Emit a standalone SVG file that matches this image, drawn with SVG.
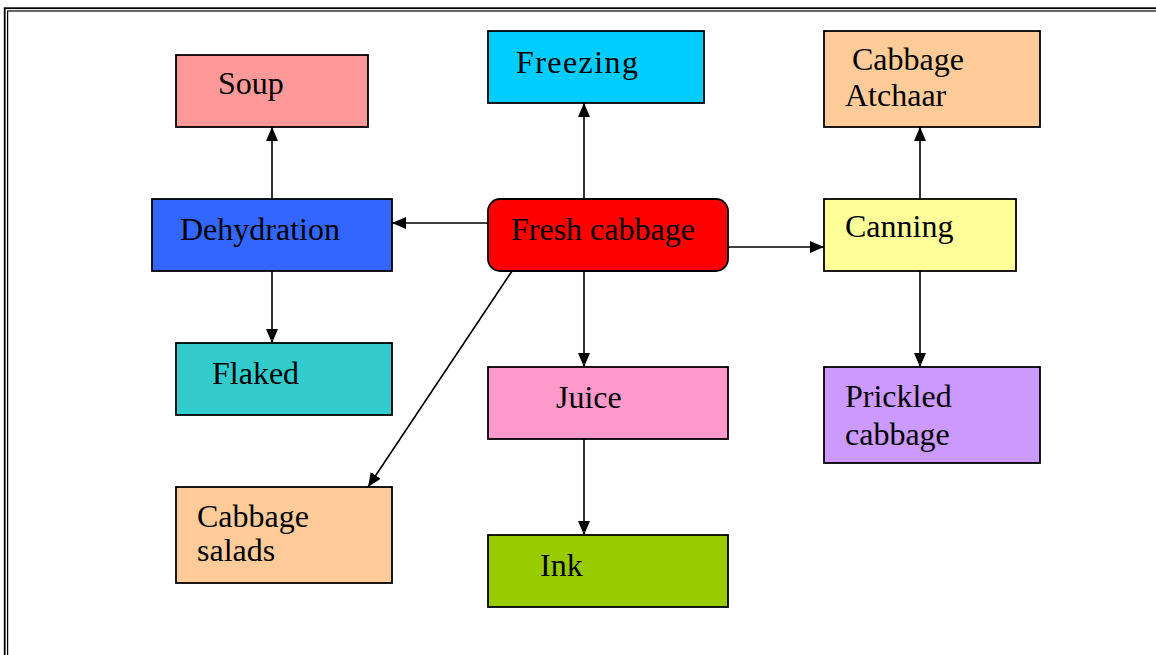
<svg xmlns="http://www.w3.org/2000/svg" width="1156" height="655" viewBox="0 0 1156 655">
<style>
.box{stroke:#000;stroke-width:1.8}
.t{font-family:'Liberation Serif','DejaVu Serif',serif;font-size:32px;fill:#000}
.c{stroke:#000;stroke-width:1.6;fill:none;marker-end:url(#ah)}
.frame{fill:none;stroke:#000}
</style>
<defs>
<marker id="ah" markerUnits="userSpaceOnUse" markerWidth="14" markerHeight="12" refX="14" refY="6" orient="auto">
<path d="M0,0 L14,6 L0,12 z" fill="#000"/>
</marker>
</defs>
<rect class="frame" x="4.7" y="8.2" width="1200" height="700" stroke-width="1.8"/>
<rect class="frame" x="7.6" y="11" width="1200" height="700" stroke-width="1.2"/>
<g id="connectors">
<line class="c" x1="272" y1="199" x2="272" y2="127"/>
<line class="c" x1="272" y1="271" x2="272" y2="343"/>
<line class="c" x1="488" y1="223" x2="392" y2="223"/>
<line class="c" x1="584" y1="199" x2="584" y2="103"/>
<line class="c" x1="728" y1="247" x2="824" y2="247"/>
<line class="c" x1="584" y1="271" x2="584" y2="367"/>
<line class="c" x1="512" y1="271" x2="368" y2="487"/>
<line class="c" x1="584" y1="439" x2="584" y2="535"/>
<line class="c" x1="920" y1="199" x2="920" y2="127"/>
<line class="c" x1="920" y1="271" x2="920" y2="367"/>
</g>
<g id="soup"><rect class="box" x="176" y="55" width="192" height="72" fill="#FF9999"/><text class="t" font-family="Liberation Serif, serif" x="218" y="94">Soup</text></g>
<g id="freezing"><rect class="box" x="488" y="31" width="216" height="72" fill="#00CCFF"/><text class="t" x="516" y="73" textLength="122">Freezing</text></g>
<g id="atchaar"><rect class="box" x="824" y="31" width="216" height="96" fill="#FFCC99"/><text class="t" x="852" y="70">Cabbage</text><text class="t" x="845" y="106">Atchaar</text></g>
<g id="dehydration"><rect class="box" x="152" y="199" width="240" height="72" fill="#3366FF"/><text class="t" x="180" y="240">Dehydration</text></g>
<g id="fresh"><rect class="box" x="488" y="199" width="240" height="72" rx="12" fill="#FF0000"/><text class="t" x="511" y="240">Fresh cabbage</text></g>
<g id="canning"><rect class="box" x="824" y="199" width="192" height="72" fill="#FFFF99"/><text class="t" x="845" y="237">Canning</text></g>
<g id="flaked"><rect class="box" x="176" y="343" width="216" height="72" fill="#33CCCC"/><text class="t" x="212" y="384">Flaked</text></g>
<g id="juice"><rect class="box" x="488" y="367" width="240" height="72" fill="#FF99CC"/><text class="t" x="556" y="408">Juice</text></g>
<g id="prickled"><rect class="box" x="824" y="367" width="216" height="96" fill="#CC99FF"/><text class="t" x="845" y="407">Prickled</text><text class="t" x="845" y="445">cabbage</text></g>
<g id="salads"><rect class="box" x="176" y="487" width="216" height="96" fill="#FFCC99"/><text class="t" x="197" y="527">Cabbage</text><text class="t" x="197" y="561">salads</text></g>
<g id="ink"><rect class="box" x="488" y="535" width="240" height="72" fill="#99CC00"/><text class="t" x="540" y="576">Ink</text></g>
</svg>
